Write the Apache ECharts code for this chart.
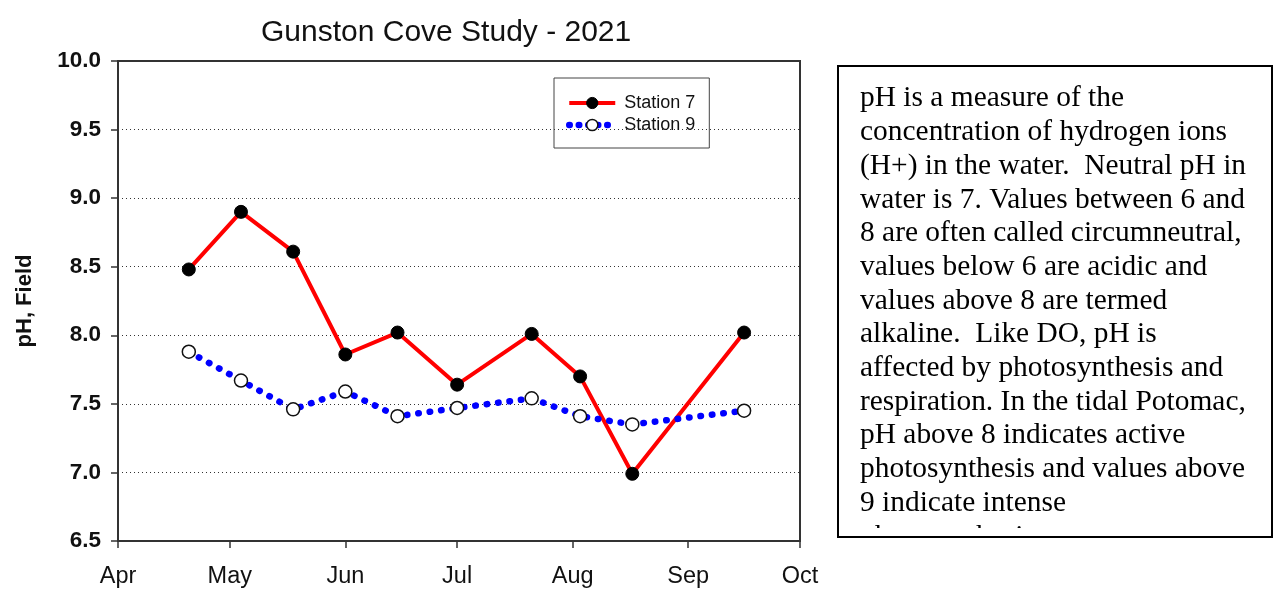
<!DOCTYPE html>
<html>
<head>
<meta charset="utf-8">
<style>
html,body{margin:0;padding:0;background:#fff;}
#chart{width:1275px;height:603px;}
</style>
<script src="https://cdn.jsdelivr.net/npm/echarts@6/dist/echarts.min.js"></script>
</head>
<body>
<div id="chart"></div>
<script>
const dates = ['2021-04-20','2021-05-04','2021-05-18','2021-06-01','2021-06-15','2021-07-01','2021-07-21','2021-08-03','2021-08-17','2021-09-16'];
const station7 = [8.48, 8.90, 8.61, 7.86, 8.02, 7.64, 8.01, 7.70, 6.99, 8.02];
const station9 = [7.88, 7.67, 7.46, 7.59, 7.41, 7.47, 7.54, 7.41, 7.35, 7.45];
const yTicks = [6.5, 7.0, 7.5, 8.0, 8.5, 9.0, 9.5, 10.0];
const monthLabels = ['Apr','May','Jun','Jul','Aug','Sep','Oct'];
const noteLines = [
  'pH is a measure of the',
  'concentration of hydrogen ions',
  '(H+) in the water.  Neutral pH in',
  'water is 7. Values between 6 and',
  '8 are often called circumneutral,',
  'values below 6 are acidic and',
  'values above 8 are termed',
  'alkaline.  Like DO, pH is',
  'affected by photosynthesis and',
  'respiration. In the tidal Potomac,',
  'pH above 8 indicates active',
  'photosynthesis and values above',
  '9 indicate intense',
  'photosynthesis.'
];

const chart = echarts.init(document.getElementById('chart'));
const axisColor = '#333';
const s7Line = {color: '#ff0000', width: 4};
const s9Line = {color: '#0000ff', width: 6.5, type: [0.5, 11], cap: 'round'};
const s7Item = {color: '#000', borderColor: '#000', borderWidth: 1};
const s9Item = {color: '#fff', borderColor: '#111', borderWidth: 1.5};
chart.setOption({
  animation: false,
  backgroundColor: '#fff',
  title: {
    text: 'Gunston Cove Study - 2021',
    left: 256, top: 13,
    textStyle: {fontFamily: 'Liberation Sans, Arial, sans-serif', fontSize: 30, fontWeight: 'normal', color: '#111'}
  },
  legend: {
    orient: 'vertical',
    left: 554, top: 78,
    padding: [16, 14, 14, 12],
    borderColor: '#444', borderWidth: 1,
    itemWidth: 46, itemHeight: 14, itemGap: 4,
    textStyle: {fontFamily: 'Liberation Sans, Arial, sans-serif', fontSize: 18, color: '#111', padding: [0, 0, 0, 4]},
    data: [
      {name: 'Station 7', lineStyle: s7Line, itemStyle: s7Item},
      {name: 'Station 9', lineStyle: {color: '#0000ff', width: 6.5, type: [0.5, 9], cap: 'round'}, itemStyle: s9Item}
    ]
  },
  grid: {
    left: 118, right: 475, top: 61, bottom: 62,
    show: true, borderColor: axisColor, borderWidth: 2, backgroundColor: 'transparent'
  },
  xAxis: {
    type: 'time',
    min: '2021-04-01', max: '2021-10-01',
    minInterval: 28 * 86400000, maxInterval: 31 * 86400000,
    axisLine: {lineStyle: {color: axisColor, width: 2}},
    axisTick: {show: true, inside: false, length: 7, lineStyle: {color: axisColor, width: 1.5}},
    axisLabel: {
      margin: 24, fontFamily: 'Liberation Sans, Arial, sans-serif', fontSize: 23.5, color: '#111',
      showMinLabel: true, showMaxLabel: true,
      formatter: function (v) { const d = new Date(v); return monthLabels[d.getMonth() - 3] || ''; }
    },
    splitLine: {show: false}
  },
  yAxis: {
    type: 'value',
    min: yTicks[0], max: yTicks[yTicks.length - 1], interval: 0.5,
    name: 'pH, Field', nameLocation: 'middle', nameRotate: 90, nameGap: 82,
    nameTextStyle: {fontFamily: 'Liberation Sans, Arial, sans-serif', fontSize: 22, fontWeight: 'bold', color: '#111'},
    axisLine: {show: true, lineStyle: {color: axisColor, width: 2}},
    axisTick: {show: true, inside: false, length: 7, lineStyle: {color: axisColor, width: 1.5}},
    axisLabel: {
      margin: 17, fontFamily: 'Liberation Sans, Arial, sans-serif', fontSize: 22.5, fontWeight: 'bold', color: '#111',
      formatter: function (v) { return v.toFixed(1); }
    },
    splitLine: {show: true, lineStyle: {color: '#333', width: 1, type: [1, 3]}}
  },
  series: [
    {
      name: 'Station 7', type: 'line',
      data: dates.map((d, i) => [d, station7[i]]),
      symbol: 'circle', symbolSize: 13,
      itemStyle: s7Item,
      lineStyle: s7Line,
      z: 3
    },
    {
      name: 'Station 9', type: 'line',
      data: dates.map((d, i) => [d, station9[i]]),
      symbol: 'circle', symbolSize: 13,
      itemStyle: s9Item,
      lineStyle: s9Line,
      z: 4
    }
  ],
  graphic: [
    {
      type: 'text',
      x: 860, y: 82,
      scaleX: 1.015, scaleY: 1, originX: 0, originY: 0,
      z: 10,
      style: {
        text: noteLines.join('\n'),
        x: 0, y: 0,
        fontFamily: 'Liberation Serif, Times New Roman, serif',
        fontSize: 29,
        lineHeight: 33.7,
        fill: '#000',
        verticalAlign: 'top', align: 'left'
      }
    },
    {
      type: 'rect', z: 11,
      shape: {x: 840, y: 528, width: 430, height: 70},
      style: {fill: '#fff', stroke: null}
    },
    {
      type: 'rect', z: 12,
      shape: {x: 838, y: 66, width: 434, height: 471},
      style: {fill: null, stroke: '#000', lineWidth: 2}
    }
  ]
});
</script>
</body>
</html>
